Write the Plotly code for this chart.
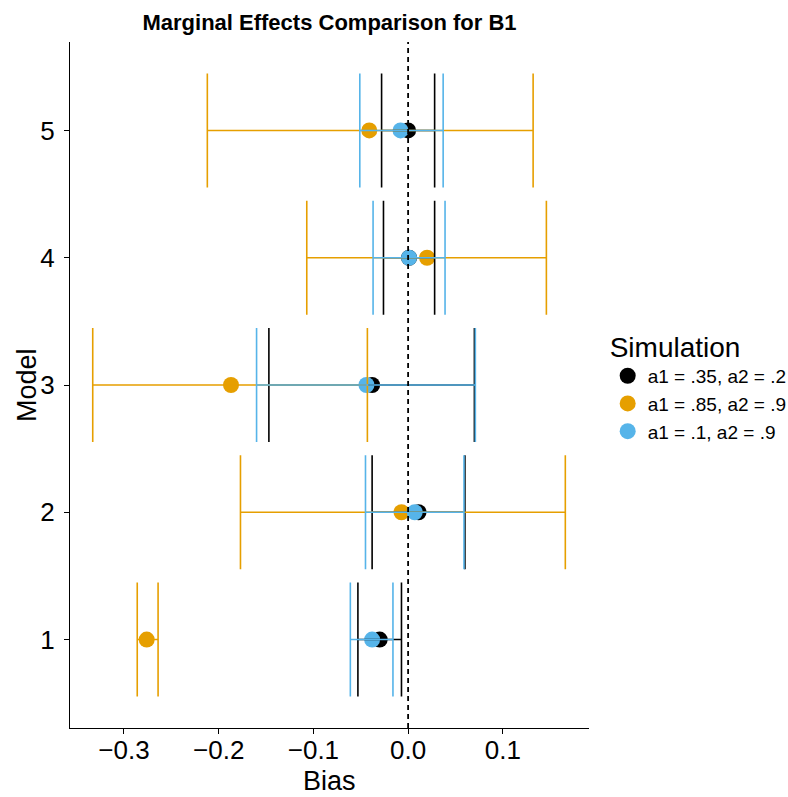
import plotly.graph_objects as go

models = [1, 2, 3, 4, 5]
sim_names = ["a1 = .35, a2 = .2", "a1 = .85, a2 = .9", "a1 = .1, a2 = .9"]
colors = ["#000000", "#E69F00", "#56B4E9"]

est_black = [-0.030, 0.011, -0.038, 0.001, 0.000]
lo_black = [-0.053, -0.038, -0.147, -0.026, -0.028]
hi_black = [-0.007, 0.060, 0.070, 0.028, 0.028]

est_orange = [-0.276, -0.007, -0.187, 0.020, -0.041]
lo_orange = [-0.286, -0.177, -0.333, -0.107, -0.212]
hi_orange = [-0.264, 0.166, -0.043, 0.146, 0.132]

est_blue = [-0.038, 0.007, -0.044, 0.001, -0.008]
lo_blue = [-0.061, -0.045, -0.160, -0.037, -0.051]
hi_blue = [-0.016, 0.059, 0.071, 0.039, 0.037]

x_ticks = [-0.3, -0.2, -0.1, 0.0, 0.1]

series = [
    (est_black, lo_black, hi_black),
    (est_orange, lo_orange, hi_orange),
    (est_blue, lo_blue, hi_blue),
]

FONT = "Liberation Sans, Arial, Helvetica, sans-serif"
fig = go.Figure()

# points
for (est, lo, hi), name, col in zip(series, sim_names, colors):
    fig.add_trace(go.Scatter(
        x=est, y=models, mode="markers", name=name,
        marker=dict(color=col, size=16, line=dict(width=0)),
    ))

# horizontal error bars (drawn over points)
for (est, lo, hi), name, col in zip(series, sim_names, colors):
    fig.add_trace(go.Scatter(
        x=est, y=models, mode="markers", showlegend=False, hoverinfo="skip",
        marker=dict(color=col, size=1, opacity=0),
        error_x=dict(type="data", symmetric=False,
                     array=[h - e for h, e in zip(hi, est)],
                     arrayminus=[e - l for e, l in zip(est, lo)],
                     color=col, thickness=1.6, width=57),
    ))

fig.add_shape(type="line", xref="x", yref="paper", x0=0, x1=0, y0=0, y1=1,
              line=dict(color="black", width=1.8, dash="5px,4px"), layer="above")

fig.add_annotation(text="Bias", xref="paper", yref="paper", x=0.5, y=-(781 - 728) / 686,
                   xanchor="center", yanchor="middle", showarrow=False,
                   font=dict(size=27, family=FONT, color="black"))
fig.add_annotation(text="Model", xref="paper", yref="paper", x=-(70 - 27) / 519, y=(728 - 385) / 686,
                   xanchor="center", yanchor="middle", showarrow=False, textangle=-90,
                   font=dict(size=27, family=FONT, color="black"))

fig.update_layout(
    width=788, height=797,
    paper_bgcolor="white", plot_bgcolor="white",
    margin=dict(l=70, r=199, t=42, b=69, autoexpand=False),
    font=dict(family=FONT, color="black"),
    title=dict(text="<b>Marginal Effects Comparison for B1</b>", x=0.5, xref="paper",
               y=1 - 22 / 797, yref="container", yanchor="middle",
               font=dict(size=22, family=FONT, color="black")),
    legend=dict(title=dict(text="Simulation", font=dict(size=28)),
                font=dict(size=19), x=1.036, xanchor="left", y=0.594, yanchor="top",
                tracegroupgap=0, bgcolor="rgba(0,0,0,0)"),
    showlegend=True,
)
fig.update_xaxes(range=[-0.357, 0.191], tickvals=x_ticks, tickformat=".1f",
                 showgrid=False, zeroline=False, showline=True, linecolor="black",
                 linewidth=1.2, ticks="outside", ticklen=5, tickcolor="black",
                 tickfont=dict(size=26, color="black"), automargin=False,
                 ticklabelstandoff=-6)
fig.update_yaxes(range=[0.305, 5.695], tickvals=models,
                 showgrid=False, zeroline=False, showline=True, linecolor="black",
                 linewidth=1.2, ticks="outside", ticklen=5, tickcolor="black",
                 tickfont=dict(size=26, color="black"), automargin=False,
                 ticklabelstandoff=4)

fig.write_html("out.html", config={"displayModeBar": False},
               post_script="document.body.style.margin='0';document.body.style.padding='0';")
